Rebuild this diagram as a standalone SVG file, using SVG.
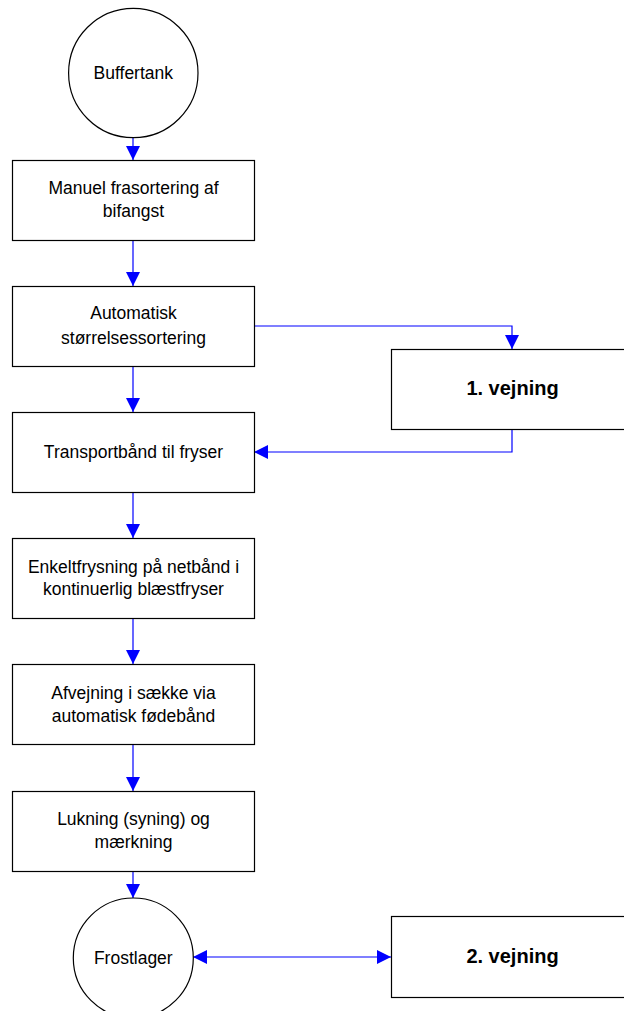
<svg xmlns="http://www.w3.org/2000/svg" width="624" height="1011" viewBox="0 0 624 1011">
<style>
.shape{fill:#fff;stroke:#000;stroke-width:1.2}
.lbl{font-family:"Liberation Sans",Arial,sans-serif;font-size:17.5px;fill:#000;text-anchor:middle}
.bold{font-weight:bold;font-size:20px}
.conn{fill:none;stroke:#0000ff;stroke-width:1.2;marker-end:url(#ah)}
</style>
<defs>
<marker id="ah" markerUnits="userSpaceOnUse" markerWidth="14" markerHeight="14" refX="13" refY="6.5" orient="auto-start-reverse" viewBox="0 0 13 13">
<path d="M0,0 L13,6.5 L0,13 z" fill="#0000ff"/>
</marker>
</defs>
<rect width="624" height="1011" fill="#fff"/>
<g id="connectors">
<path class="conn" d="M133,138 V160"/>
<path class="conn" d="M133,240 V286"/>
<path class="conn" d="M254,326 H512 V349"/>
<path class="conn" d="M133,367 V412"/>
<path class="conn" d="M512,429 V452 H254"/>
<path class="conn" d="M133,492 V538"/>
<path class="conn" d="M133,618 V664"/>
<path class="conn" d="M133,744 V791"/>
<path class="conn" d="M133,871 V898"/>
<path class="conn" style="marker-start:url(#ah)" d="M193,957 H391"/>
</g>
<g id="buffertank">
<circle class="shape" cx="133.3" cy="73" r="64.7"/>
<text class="lbl" x="133.3" y="79">Buffertank</text>
</g>
<g id="manuel">
<rect class="shape" x="12.5" y="160.5" width="242" height="80"/>
<text class="lbl" x="133.5" y="194">Manuel frasortering af</text>
<text class="lbl" x="133.5" y="217">bifangst</text>
</g>
<g id="automatisk">
<rect class="shape" x="12.5" y="286.5" width="242" height="80"/>
<text class="lbl" x="133.5" y="319">Automatisk</text>
<text class="lbl" x="133.5" y="344">størrelsessortering</text>
</g>
<g id="vejning1">
<rect class="shape" x="391.5" y="349.5" width="242" height="80"/>
<text class="lbl bold" x="512.5" y="395">1. vejning</text>
</g>
<g id="transport">
<rect class="shape" x="12.5" y="412.5" width="242" height="80"/>
<text class="lbl" x="133.5" y="458">Transportbånd til fryser</text>
</g>
<g id="enkelt">
<rect class="shape" x="12.5" y="538.5" width="242" height="80"/>
<text class="lbl" x="133.5" y="573">Enkeltfrysning på netbånd i</text>
<text class="lbl" x="133.5" y="595">kontinuerlig blæstfryser</text>
</g>
<g id="afvejning">
<rect class="shape" x="12.5" y="664.5" width="242" height="80"/>
<text class="lbl" x="133.5" y="699">Afvejning i sække via</text>
<text class="lbl" x="133.5" y="722">automatisk fødebånd</text>
</g>
<g id="lukning">
<rect class="shape" x="12.5" y="791.5" width="242" height="80"/>
<text class="lbl" x="133.5" y="825">Lukning (syning) og</text>
<text class="lbl" x="133.5" y="848">mærkning</text>
</g>
<g id="frostlager">
<circle class="shape" cx="133.3" cy="958" r="60"/>
<text class="lbl" x="133.3" y="964">Frostlager</text>
</g>
<g id="vejning2">
<rect class="shape" x="391.5" y="916.5" width="242" height="81"/>
<text class="lbl bold" x="512.5" y="963">2. vejning</text>
</g>
</svg>
